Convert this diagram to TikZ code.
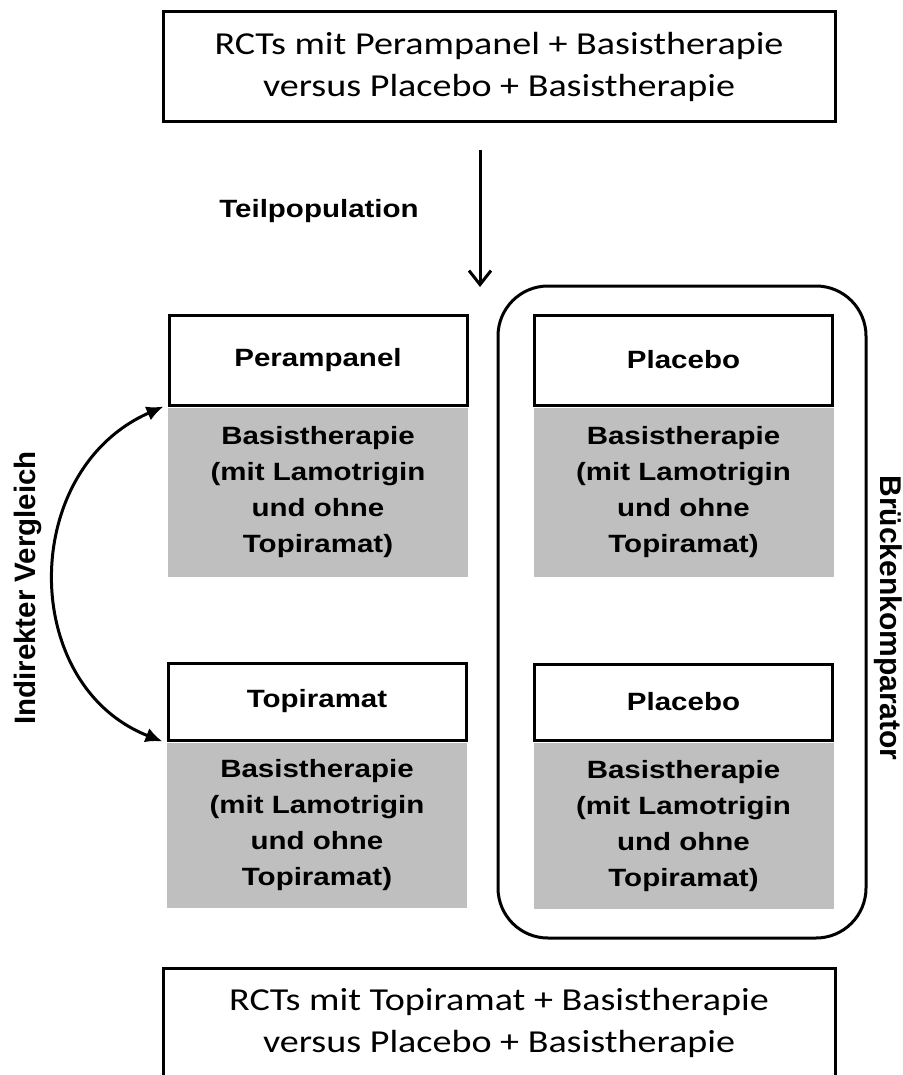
\documentclass[tikz,border=0pt]{standalone}
\usepackage{fontspec}
\setmainfont{Carlito}[FakeStretch=1.19]
\newfontfamily\armfont{Liberation Sans}[FakeStretch=1.18]
\newfontfamily\seitfont{Liberation Sans}
\usetikzlibrary{arrows.meta,positioning}
\definecolor{basisgrau}{RGB}{191,191,191}

\begin{document}
\begin{tikzpicture}[x=1pt, y=-1pt, line width=3pt,
    studie/.style={rectangle, draw, minimum width=672pt, minimum height=110pt, align=center, inner sep=0pt, font=\fontsize{32}{42}\selectfont},
    arm/.style={rectangle, draw, fill=white, minimum width=298pt, inner sep=0pt, font=\armfont\bfseries\fontsize{25}{36}\selectfont},
    basis/.style={rectangle, fill=basisgrau, minimum width=300pt, inner sep=0pt, align=center, font=\armfont\bfseries\fontsize{25}{36}\selectfont},
    seite/.style={font=\seitfont\bfseries\fontsize{29.5}{34}\selectfont, inner sep=0pt},
    pfeil/.style={-{Straight Barb[length=14pt, width=22pt]}},
    vgl/.style={{Latex[length=17pt, width=15pt]}-{Latex[length=17pt, width=15pt]}}]
    \useasboundingbox (0,0) rectangle (902,1075);
    \node [studie] (oben) at (499,67) {RCTs mit Perampanel + Basistherapie\\versus Placebo + Basistherapie};
    \node [studie] (unten) at (499,1023) {RCTs mit Topiramat + Basistherapie\\versus Placebo + Basistherapie};
    \node [draw, rounded corners=50pt, minimum width=368pt, minimum height=652pt] (bruecke) at (682,612) {};
    % linke Spalte
    \node [basis, minimum height=169pt] (perambasis) at (318,492.5) {Basistherapie\\(mit Lamotrigin\\und ohne\\Topiramat)};
    \node [arm, minimum height=90pt, above=0pt of perambasis] (peram) {Perampanel};
    \node [basis, minimum height=165pt] (topibasis) at (317,825.5) {Basistherapie\\(mit Lamotrigin\\und ohne\\Topiramat)};
    \node [arm, minimum height=77pt, above=0pt of topibasis] (topi) {Topiramat};
    % rechte Spalte
    \node [basis, minimum height=169pt] (placabasis) at (683.5,492.5) {Basistherapie\\(mit Lamotrigin\\und ohne\\Topiramat)};
    \node [arm, minimum height=90pt, above=0pt of placabasis] (placa) {Placebo};
    \node [basis, minimum height=166pt] (placbbasis) at (683.5,826) {Basistherapie\\(mit Lamotrigin\\und ohne\\Topiramat)};
    \node [arm, minimum height=76pt, above=0pt of placbbasis] (placb) {Placebo};
    % Beschriftungen
    \node [font=\armfont\bfseries\fontsize{25}{30}\selectfont] (teil) at (319,211) {Teilpopulation};
    \node [seite, rotate=90] (indirekt) at (28,588) {Indirekter Vergleich};
    \node [seite, font=\seitfont\bfseries\fontsize{30}{34}\selectfont, rotate=-90] (komparator) at (888,618) {Brückenkomparator};
    \coordinate (teilstart) at (480,150);
    \coordinate (teilziel) at (480,287);
    \draw [pfeil] (teilstart) -- (teilziel);
    \draw [vgl] ([xshift=-4pt]peram.south west) .. controls (19,470) and (19,685) .. ([xshift=-4pt]topi.south west);
\end{tikzpicture}
\end{document}
